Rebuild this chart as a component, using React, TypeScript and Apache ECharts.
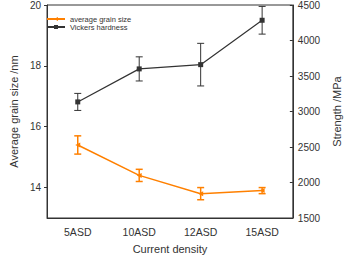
import React, { useEffect, useRef } from "react";
import * as echarts from "echarts";

const categories = ["5ASD", "10ASD", "12ASD", "15ASD"];
const grainSize = [15.4, 14.4, 13.8, 13.9];
const grainErr = [0.3, 0.2, 0.2, 0.1];
const hardness = [3135, 3600, 3660, 4285];
const hardnessErr = [120, 170, 300, 195];
const leftTicks = [14, 16, 18, 20];

const ORANGE = "#ff8000";
const DARK = "#333333";
const FONT = "Liberation Sans, Arial, sans-serif";

function errorSeries(values: number[], errs: number[], color: string, yAxisIndex: number, width: number) {
  const data = values.map((v, i) => [i, v - errs[i], v + errs[i]]);
  return {
    type: "custom",
    yAxisIndex,
    silent: true,
    z: 1,
    data,
    renderItem: (params: any, api: any) => {
      const x = api.value(0);
      const lo = api.coord([x, api.value(1)]);
      const hi = api.coord([x, api.value(2)]);
      const cap = 3.5;
      const style = { stroke: color, lineWidth: width, fill: "none" };
      return {
        type: "group",
        children: [
          { type: "line", shape: { x1: lo[0], y1: lo[1], x2: hi[0], y2: hi[1] }, style },
          { type: "line", shape: { x1: lo[0] - cap, y1: lo[1], x2: lo[0] + cap, y2: lo[1] }, style },
          { type: "line", shape: { x1: hi[0] - cap, y1: hi[1], x2: hi[0] + cap, y2: hi[1] }, style },
        ],
      };
    },
  };
}

export default function App() {
  const ref = useRef<HTMLDivElement>(null);
  useEffect(() => {
    const chart = echarts.init(ref.current!, null, { renderer: "svg" });
    chart.setOption({
      animation: false,
      textStyle: { fontFamily: FONT },
      grid: { left: 38, right: 42, top: 4, bottom: 35, show: true, borderColor: DARK, borderWidth: 1 },
      legend: {
        left: 46,
        top: 15,
        orient: "vertical",
        itemWidth: 18,
        itemHeight: 5,
        itemGap: 0,
        padding: 0,
        textStyle: { fontSize: 7.5, lineHeight: 8, color: DARK, fontFamily: FONT },
        data: ["average grain size", "Vickers hardness"],
      },
      xAxis: {
        type: "category",
        data: categories,
        name: "Current density",
        nameLocation: "middle",
        nameGap: 25,
        nameTextStyle: { fontSize: 11, color: DARK, fontFamily: FONT },
        axisLine: { lineStyle: { color: DARK } },
        axisTick: { show: false },
        axisLabel: { fontSize: 10.5, color: DARK, margin: 8, fontFamily: FONT },
      },
      yAxis: [
        {
          type: "value",
          min: 13,
          max: 20,
          name: "Average grain size /nm",
          nameLocation: "middle",
          nameGap: 28,
          nameTextStyle: { fontSize: 11, color: DARK, fontFamily: FONT },
          axisLine: { show: true, lineStyle: { color: DARK } },
          axisTick: { show: true, length: 3, customValues: leftTicks, lineStyle: { color: DARK } },
          axisLabel: { fontSize: 10, color: DARK, margin: 6, customValues: leftTicks, fontFamily: FONT },
          splitLine: { show: false },
        },
        {
          type: "value",
          min: 1500,
          max: 4500,
          interval: 500,
          name: "Strength /MPa",
          nameLocation: "middle",
          nameGap: 34,
          nameTextStyle: { fontSize: 11, color: DARK, fontFamily: FONT },
          axisLine: { show: true, lineStyle: { color: DARK } },
          axisTick: { show: true, length: 3, inside: true, lineStyle: { color: DARK } },
          axisLabel: { fontSize: 10, color: DARK, margin: 5, fontFamily: FONT, formatter: (v: number) => String(v) },
          splitLine: { show: false },
        },
      ],
      series: [
        errorSeries(grainSize, grainErr, ORANGE, 0, 1.5),
        errorSeries(hardness, hardnessErr, DARK, 1, 1),
        {
          name: "average grain size",
          type: "line",
          yAxisIndex: 0,
          data: grainSize,
          symbol: "triangle",
          symbolRotate: 90,
          symbolSize: 5,
          itemStyle: { color: ORANGE },
          lineStyle: { color: ORANGE, width: 1.5 },
          z: 3,
        },
        {
          name: "Vickers hardness",
          type: "line",
          yAxisIndex: 1,
          data: hardness,
          symbol: "rect",
          symbolSize: 5,
          itemStyle: { color: DARK },
          lineStyle: { color: DARK, width: 1.2 },
          z: 3,
        },
      ],
    });
    return () => chart.dispose();
  }, []);
  return <div ref={ref} style={{ width: 350, height: 259, position: "absolute", left: 0, top: 0 }} />;
}
